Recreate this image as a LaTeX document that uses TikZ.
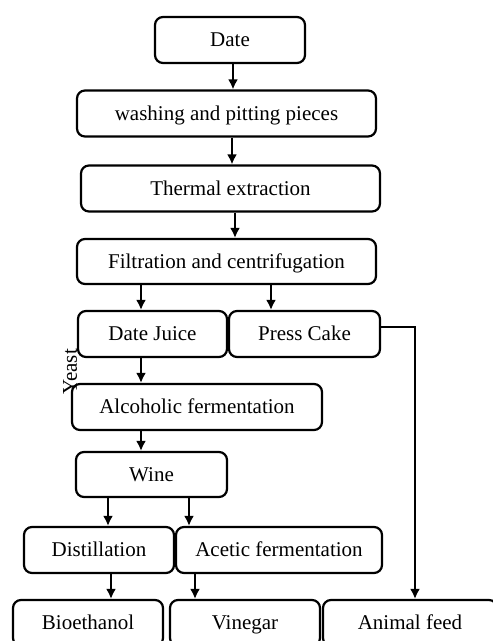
\documentclass[tikz,border=0pt]{standalone}
\usepackage{fontspec}
\setmainfont{Liberation Serif}
\usetikzlibrary{arrows.meta}
\begin{document}
\begin{tikzpicture}[>={Latex[length=10pt,width=10pt]}, x=1pt, y=-1pt,
    box/.style={draw, line width=2.2pt, rounded corners=8pt, minimum height=46pt, inner sep=0pt,
        text height=17.5pt, text depth=4pt, font=\fontsize{21}{25}\selectfont},
    line width=2pt]
\useasboundingbox (0,0) rectangle (493,641);
    \node[box, minimum width=150pt] (date) at (230,40) {Date};
    \node[box, minimum width=299pt] (wash) at (226.5,113.5) {washing and pitting pieces};
    \node[box, minimum width=299pt] (therm) at (230.5,188.5) {Thermal extraction};
    \node[box, minimum width=299pt, minimum height=45pt] (filt) at (226.5,261.5) {Filtration and centrifugation};
    \node[box, minimum width=149pt] (juice) at (152.5,334) {Date Juice};
    \node[box, minimum width=151pt] (cake) at (304.5,334) {Press Cake};
    \node[box, minimum width=250pt] (alco) at (197,407) {Alcoholic fermentation};
    \node[box, minimum width=151pt, minimum height=45pt] (wine) at (151.5,474.5) {Wine};
    \node[box, minimum width=150pt] (dist) at (99,550) {Distillation};
    \node[box, minimum width=206pt] (acet) at (279,550) {Acetic fermentation};
    \node[box, minimum width=150pt] (bio) at (88,623) {Bioethanol};
    \node[box, minimum width=150pt] (vin) at (245,623) {Vinegar};
    \node[box, minimum width=174pt] (feed) at (410,623) {Animal feed};
    \node[rotate=90, font=\fontsize{21}{25}\selectfont] (yeast) at (70,372) {Yeast};
\foreach \a/\b/\s in {date/wash/3,wash/therm/5.5,therm/filt/4.5,filt/juice/-85.5,filt/cake/44.5,
    juice/alco/-11.5,alco/wine/-56,wine/dist/-43.5,wine/acet/37.5,dist/bio/12,acet/vin/-84}
{
    \draw[->] ([xshift=\s pt]\a.south) -- ([xshift=\s pt]\a.south |- \b.north);
}
    \draw[->] ([yshift=7pt]cake.east) -| ([xshift=5pt]feed.north);
\end{tikzpicture}
\end{document}
